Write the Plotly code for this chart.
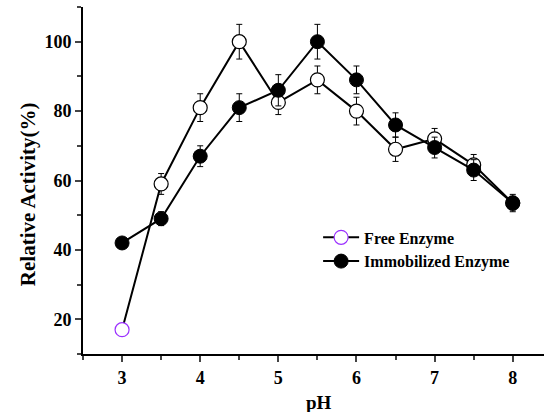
import plotly.graph_objects as go

ph = [3, 3.5, 4, 4.5, 5, 5.5, 6, 6.5, 7, 7.5, 8]
free = [17, 59, 81, 100, 82.5, 89, 80, 69, 72, 64.5, 53.5]
free_err = [1.5, 3, 4, 5, 3.5, 4, 4, 3.5, 3, 3, 2]
immob = [42, 49, 67, 81, 86, 100, 89, 76, 69.5, 63, 53.5]
immob_err = [1.5, 2, 3, 4, 4.5, 5, 4, 3.5, 3, 3, 2.5]

free_edge = ["#9b30ff"] + ["black"] * (len(ph) - 1)

fig = go.Figure()
fig.add_trace(go.Scatter(
    x=ph, y=free, name="Free Enzyme", mode="lines+markers",
    line=dict(color="black", width=2),
    marker=dict(symbol="circle", size=14, color="white",
                line=dict(color=free_edge, width=1.2)),
    error_y=dict(type="data", array=free_err, color="black", thickness=1, width=3),
))
fig.add_trace(go.Scatter(
    x=ph, y=immob, name="Immobilized Enzyme", mode="lines+markers",
    line=dict(color="black", width=2),
    marker=dict(symbol="circle", size=14, color="black",
                line=dict(color="black", width=1)),
    error_y=dict(type="data", array=immob_err, color="black", thickness=1, width=3),
))

font_family = "Liberation Serif"
fig.update_layout(
    width=544, height=412,
    margin=dict(l=83, r=0, t=7, b=58),
    paper_bgcolor="white", plot_bgcolor="white",
    font=dict(family=font_family, color="black"),
    showlegend=True,
    legend=dict(x=0.51, y=0.385, xanchor="left", yanchor="top",
                bgcolor="rgba(0,0,0,0)",
                font=dict(family=font_family, size=16, color="black", weight="bold"),
                itemwidth=36, tracegroupgap=0),
    xaxis=dict(
        range=[2.5, 8.4], tickmode="linear", tick0=3, dtick=1,
        ticks="outside", ticklen=6, tickwidth=2, showgrid=False, zeroline=False,
        showline=True, linecolor="black", linewidth=2,
        tickfont=dict(family=font_family, size=18, color="black", weight="bold"),
        minor=dict(dtick=0.5, tick0=3, ticks="outside", ticklen=4, tickwidth=2, showgrid=False),
    ),
    yaxis=dict(
        range=[10, 110], tickmode="linear", tick0=0, dtick=20,
        ticks="outside", ticklen=6, tickwidth=2, showgrid=False, zeroline=False,
        showline=True, linecolor="black", linewidth=2,
        tickfont=dict(family=font_family, size=18, color="black", weight="bold"),
        minor=dict(dtick=10, tick0=0, ticks="outside", ticklen=4, tickwidth=2, showgrid=False),
    ),
    annotations=[
        dict(text="Relative Activity(%)", textangle=-90, xref="paper", yref="paper",
             x=-0.119, y=0.461, xanchor="center", yanchor="middle", showarrow=False,
             font=dict(family=font_family, size=21, color="black", weight="bold")),
        dict(text="pH", xref="paper", yref="paper",
             x=0.511, y=-0.14, xanchor="center", yanchor="middle", showarrow=False,
             font=dict(family=font_family, size=19, color="black", weight="bold")),
    ],
)

fig.write_html("out.html")
